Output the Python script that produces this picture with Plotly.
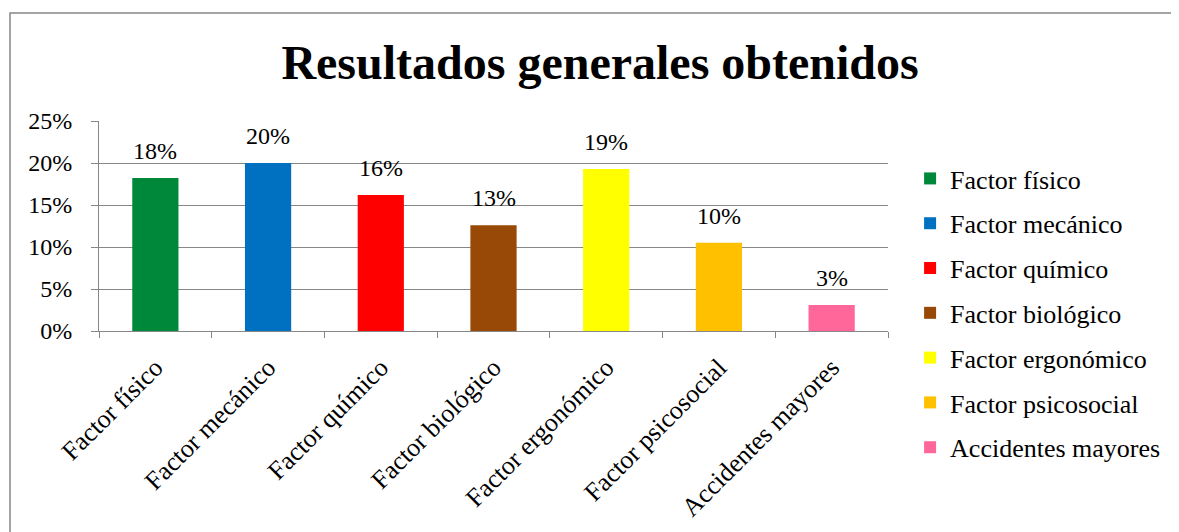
import plotly.graph_objects as go

# data
categories = ['Factor físico', 'Factor mecánico', 'Factor químico', 'Factor biológico',
              'Factor ergonómico', 'Factor psicosocial', 'Accidentes mayores']
values = [0.182, 0.200, 0.162, 0.126, 0.193, 0.105, 0.031]
colors = ['#00883A', '#0070C0', '#FF0000', '#984807', '#FFFF00', '#FFC000', '#FF6699']
y_ticks = [0, 0.05, 0.10, 0.15, 0.20, 0.25]

FONT = 'Liberation Serif, Times New Roman, serif'
GRAY = '#878787'

fig = go.Figure()

for cat, val, col in zip(categories, values, colors):
    fig.add_trace(go.Bar(x=[cat], y=[val], name=cat,
                         marker=dict(color=col, line=dict(width=0)),
                         legendgroup=cat,
                         hoverinfo='skip'))
    fig.add_annotation(x=cat, y=val, text=f'{val:.0%}', showarrow=False,
                       yanchor='bottom', yshift=12,
                       font=dict(family=FONT, size=24, color='black'))

# page body has an 8px margin, so the figure is 8px smaller than the window
fig.update_layout(
    width=1171, height=524,
    margin=dict(l=91, r=291, t=113, b=201),
    paper_bgcolor='white', plot_bgcolor='white',
    font=dict(family=FONT, size=24, color='black'),
    barmode='overlay',
    bargap=0.59,
    title=dict(text='<b>Resultados generales obtenidos</b>',
               font=dict(family=FONT, size=48, color='black'),
               x=0.5056, xanchor='center', xref='container',
               y=0.897, yanchor='middle', yref='container'),
    legend=dict(x=1.028, xanchor='left', y=0.838, yanchor='top',
                font=dict(family=FONT, size=26, color='black'),
                tracegroupgap=8, bgcolor='rgba(0,0,0,0)',
                maxheight=420),
    showlegend=True,
)

fig.update_xaxes(type='category', categoryorder='array', categoryarray=categories,
                 showline=True, linecolor=GRAY, linewidth=1,
                 ticks='outside', tickson='boundaries', ticklen=6, tickcolor=GRAY,
                 tickangle=-45, showgrid=False, ticklabelstandoff=10,
                 automargin=False,
                 tickfont=dict(family=FONT, size=26, color='black'))

fig.update_yaxes(range=[0, 0.25], tickvals=y_ticks, tickformat='.0%',
                 showline=True, linecolor=GRAY, linewidth=1,
                 ticks='outside', ticklen=7, tickcolor=GRAY,
                 ticklabelstandoff=14, automargin=False,
                 showgrid=True, gridcolor=GRAY, gridwidth=1,
                 zeroline=False,
                 tickfont=dict(family=FONT, size=24, color='black'))

# outer chart border (cut off at right and bottom in the reference)
fig.add_shape(type='rect', xref='paper', yref='paper',
              x0=(2 - 91) / 789, x1=2, y0=-3, y1=(323 - 5) / 210,
              line=dict(color=GRAY, width=1.5), fillcolor='rgba(0,0,0,0)', layer='below')

fig.write_html('out.html')
